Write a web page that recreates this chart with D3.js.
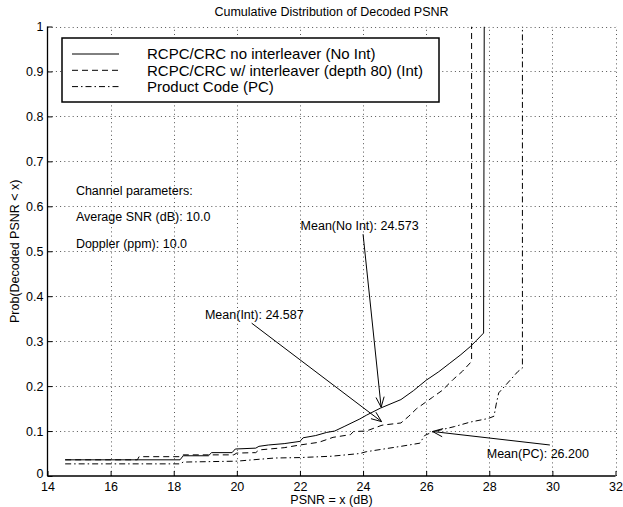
<!DOCTYPE html>
<meta charset="utf-8">
<script src="https://d3js.org/d3.v7.min.js"></script>
<style>
  body { margin: 0; background: #fff; }
  text { font-family: "Liberation Sans", Arial, sans-serif; fill: #000; }
</style>
<svg id="chart" width="623" height="507"></svg>
<script>

// ---- data (PSNR dB, probability) ----
var noInt = [[14.56,0.036],[18.2,0.036],[18.3,0.045],[19.1,0.045],[19.2,0.052],[19.85,0.052],[19.95,0.06],
  [20.6,0.062],[20.7,0.066],[21.0,0.069],[21.5,0.072],[22.0,0.077],[22.1,0.085],[22.5,0.09],[22.85,0.097],
  [23.1,0.1],[23.4,0.11],[23.9,0.127],[24.1,0.135],[24.55,0.151],[25.2,0.17],[25.6,0.19],[26.0,0.213],
  [26.4,0.232],[26.75,0.251],[27.1,0.27],[27.4,0.288],[27.6,0.302],[27.82,0.318],[27.84,1.0]];
var withInt = [[14.56,0.036],[16.85,0.036],[16.9,0.043],[18.2,0.043],[18.3,0.047],[19.9,0.047],[20.0,0.051],
  [20.6,0.052],[20.7,0.058],[21.5,0.063],[22.0,0.069],[22.6,0.075],[23.05,0.086],[23.6,0.092],[23.7,0.099],
  [24.1,0.1],[24.6,0.113],[25.2,0.118],[25.45,0.133],[25.7,0.15],[26.2,0.175],[26.5,0.19],[26.86,0.215],
  [27.15,0.233],[27.4,0.252],[27.44,0.256],[27.44,1.0]];
var prodCode = [[14.56,0.027],[18.2,0.027],[18.3,0.031],[20.0,0.033],[20.5,0.036],[21.2,0.04],[22.0,0.041],
  [23.0,0.044],[23.9,0.05],[24.1,0.054],[25.2,0.066],[25.8,0.073],[25.95,0.09],[26.2,0.098],[26.9,0.11],
  [27.4,0.12],[27.97,0.128],[28.15,0.133],[28.22,0.16],[28.3,0.185],[28.66,0.213],[28.9,0.232],[29.05,0.24],[29.05,1.0]];

var seriesNames = ["RCPC/CRC no interleaver (No Int)", "RCPC/CRC w/ interleaver (depth 80) (Int)", "Product Code (PC)"];
var xTicks = [14,16,18,20,22,24,26,28,30,32];
var yTicks = [0,0.1,0.2,0.3,0.4,0.5,0.6,0.7,0.8,0.9,1];
var channelLines = ["Channel parameters:", "Average SNR (dB): 10.0", "Doppler (ppm): 10.0"];
var channelPos = [[14.9,0.635],[14.9,0.577],[14.9,0.518]];
// label, text anchor (x,y), line start, arrow tip
var means = [
  {label:"Mean(No Int): 24.573", tx:22.02, ty:0.557, sx:24.0, sy:0.538, ex:24.573, ey:0.153},
  {label:"Mean(Int): 24.587", tx:18.99, ty:0.358, sx:20.47, sy:0.34, ex:24.587, ey:0.121},
  {label:"Mean(PC): 26.200", tx:27.92, ty:0.049, sx:29.92, sy:0.069, ex:26.2, ey:0.099}
];

var svg = d3.select("#chart");
var plotL = 47.5, plotR = 615.5, plotT = 26.5, plotB = 476;

var x = d3.scaleLinear().domain([14,32]).range([plotL,plotR]);
var y = d3.scaleLinear().domain([0,1]).range([plotB,plotT]);

// grid
var grid = svg.append("g").attr("stroke","#555").attr("stroke-width",1).attr("stroke-dasharray","1,3.2");
grid.selectAll(".gx").data(xTicks.slice(1)).enter().append("line")
  .attr("x1",d=>Math.round(x(d))+0.5).attr("x2",d=>Math.round(x(d))+0.5)
  .attr("y1",plotB).attr("y2",plotT);
grid.selectAll(".gy").data(yTicks.slice(1)).enter().append("line")
  .attr("y1",d=>Math.round(y(d))+0.5).attr("y2",d=>Math.round(y(d))+0.5)
  .attr("x1",plotL).attr("x2",plotR);

// axes
var xAxis = d3.axisBottom(x).tickValues(xTicks).tickSize(-5).tickPadding(6).tickFormat(d3.format("d"));
var yAxis = d3.axisLeft(y).tickValues(yTicks).tickSize(-5).tickPadding(4).tickFormat(d => d === 0 || d === 1 ? d : d3.format(".1f")(d));
var gx = svg.append("g").attr("transform","translate(0," + plotB + ")").call(xAxis);
var gy = svg.append("g").attr("transform","translate(" + plotL + ",0)").call(yAxis);
[gx, gy].forEach(function(g){
  g.select(".domain").attr("stroke","#000").attr("stroke-width",1.3);
  g.selectAll(".tick line").attr("stroke","#000");
  g.selectAll(".tick text").attr("font-size","12.5px").attr("fill","#000")
   .style("font-family","'Liberation Sans', Arial, sans-serif");
});
gx.select(".domain").attr("d","M" + plotL + ",0H" + plotR);
gy.select(".domain").attr("d","M0," + plotB + "V" + plotT);
// the "0" label sits a touch higher, clear of the "14" below it
gy.selectAll(".tick text").filter(d => d === 0).attr("dy","0.1em");

// curves
var line = d3.line().x(d => x(d[0])).y(d => y(d[1]));
var dashes = [null, "6,4", "6,3,1.5,3"];
svg.append("clipPath").attr("id","clip").append("rect")
  .attr("x",plotL).attr("y",plotT).attr("width",plotR-plotL).attr("height",plotB-plotT);
[noInt, withInt, prodCode].forEach(function(s,i){
  svg.append("path").datum(s).attr("d",line).attr("fill","none")
    .attr("stroke","#000").attr("stroke-width",1).attr("clip-path","url(#clip)")
    .attr("stroke-dasharray",dashes[i]);
});

// legend
var leg = svg.append("g");
leg.append("rect").attr("x",62).attr("y",38).attr("width",377).attr("height",64)
  .attr("fill","#fff").attr("stroke","#000").attr("stroke-width",1.5);
seriesNames.forEach(function(n,i){
  var ly = 54 + i*16.3;
  leg.append("line").attr("x1",72).attr("x2",119).attr("y1",ly).attr("y2",ly)
    .attr("stroke","#000").attr("stroke-width",1).attr("stroke-dasharray",dashes[i]);
  leg.append("text").attr("x",147).attr("y",ly).attr("dy","0.35em")
    .attr("font-size","15px").text(n);
});

// channel text
channelLines.forEach(function(t,i){
  svg.append("text").attr("x",x(channelPos[i][0])).attr("y",y(channelPos[i][1])).attr("dy","0.35em")
    .attr("font-size","12.5px").text(t);
});

// mean annotations with open arrowheads
means.forEach(function(m){
  svg.append("text").attr("x",x(m.tx)).attr("y",y(m.ty)).attr("dy","0.35em")
    .attr("font-size","12.5px").text(m.label);
  var x1 = x(m.sx), y1 = y(m.sy), x2 = x(m.ex), y2 = y(m.ey);
  svg.append("line").attr("x1",x1).attr("y1",y1).attr("x2",x2).attr("y2",y2)
    .attr("stroke","#000").attr("stroke-width",1);
  var a = Math.atan2(y1-y2, x1-x2), len = 11, sp = 0.38;
  [a-sp, a+sp].forEach(function(b){
    svg.append("line").attr("x1",x2).attr("y1",y2)
      .attr("x2",x2 + len*Math.cos(b)).attr("y2",y2 + len*Math.sin(b))
      .attr("stroke","#000").attr("stroke-width",1);
  });
});

// titles
svg.append("text").attr("x",(plotL+plotR)/2).attr("y",12).attr("dy","0.35em")
  .attr("text-anchor","middle").attr("font-size","12.5px").text("Cumulative Distribution of Decoded PSNR");
svg.append("text").attr("x",(plotL+plotR)/2).attr("y",500).attr("dy","0.35em")
  .attr("text-anchor","middle").attr("font-size","12.5px").text("PSNR = x (dB)");
svg.append("text").attr("transform","translate(15," + (plotT+plotB)/2 + ") rotate(-90)").attr("dy","0.35em")
  .attr("text-anchor","middle").attr("font-size","12.5px").text("Prob(Decoded PSNR < x)");

</script>
